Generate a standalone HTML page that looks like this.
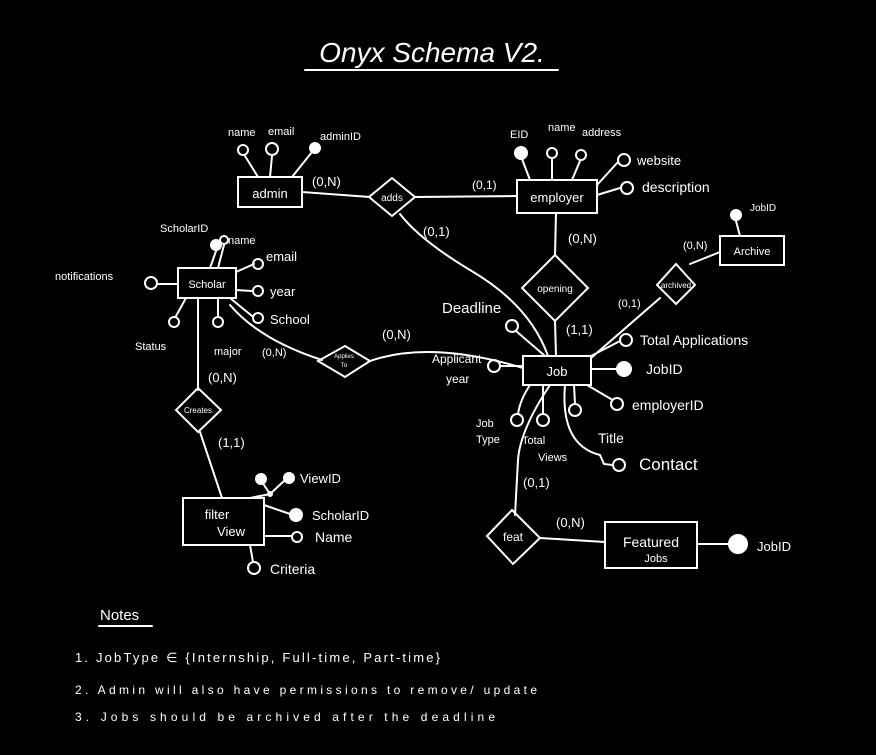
<!DOCTYPE html>
<html><head><meta charset="utf-8"><style>
html,body{margin:0;padding:0;background:#000;width:876px;height:755px;overflow:hidden}
svg{display:block}
text{fill:#fff;font-family:"Liberation Sans",sans-serif}
</style></head><body>
<svg width="876" height="755" viewBox="0 0 876 755" stroke="#fff" stroke-width="2" fill="none" stroke-linecap="round">
<text x="432" y="62" font-size="28" text-anchor="middle" stroke="none" font-style="italic">Onyx Schema V2.</text>
<line x1="305" y1="70" x2="558" y2="70"/>

<rect x="238" y="177" width="64" height="30"/>
<text x="270" y="198" font-size="13" stroke="none" text-anchor="middle">admin</text>
<line x1="258" y1="177" x2="245" y2="156"/><circle cx="243" cy="150" r="5"/>
<line x1="270" y1="177" x2="272" y2="156"/><circle cx="272" cy="149" r="6"/>
<line x1="292" y1="177" x2="312" y2="152"/><circle cx="315" cy="148" r="5" fill="#fff"/>
<text x="228" y="136" font-size="11" stroke="none">name</text>
<text x="268" y="135" font-size="11" stroke="none">email</text>
<text x="320" y="140" font-size="11" stroke="none">adminID</text>
<text x="312" y="186" font-size="13" stroke="none">(0,N)</text>
<line x1="302" y1="192" x2="370" y2="197"/>
<polygon points="392,178 415,197 392,216 369,197"/>
<text x="392" y="201" font-size="10" stroke="none" text-anchor="middle">adds</text>
<line x1="415" y1="197" x2="517" y2="196"/>
<text x="472" y="189" font-size="12" stroke="none">(0,1)</text>
<path d="M400,214 Q420,240 470,270 Q530,305 548,356"/>
<text x="423" y="236" font-size="13" stroke="none">(0,1)</text>

<rect x="517" y="180" width="80" height="33"/>
<text x="557" y="202" font-size="13" stroke="none" text-anchor="middle">employer</text>
<line x1="530" y1="180" x2="522" y2="159"/><circle cx="521" cy="153" r="6" fill="#fff"/>
<line x1="552" y1="180" x2="552" y2="159"/><circle cx="552" cy="153" r="5"/>
<line x1="572" y1="180" x2="580" y2="161"/><circle cx="581" cy="155" r="5"/>
<line x1="597" y1="185" x2="618" y2="162"/><circle cx="624" cy="160" r="6"/>
<line x1="597" y1="195" x2="620" y2="188"/><circle cx="627" cy="188" r="6"/>
<text x="510" y="138" font-size="11" stroke="none">EID</text>
<text x="548" y="131" font-size="11" stroke="none">name</text>
<text x="582" y="136" font-size="11" stroke="none">address</text>
<text x="637" y="165" font-size="13" stroke="none">website</text>
<text x="642" y="192" font-size="14" stroke="none">description</text>
<text x="568" y="243" font-size="13" stroke="none">(0,N)</text>
<line x1="556" y1="213" x2="555" y2="255"/>
<polygon points="555,255 588,288 555,321 522,288"/>
<text x="555" y="292" font-size="10" stroke="none" text-anchor="middle">opening</text>
<line x1="555" y1="321" x2="556" y2="356"/>
<text x="566" y="334" font-size="13" stroke="none">(1,1)</text>

<rect x="720" y="236" width="64" height="29"/>
<text x="752" y="255" font-size="11" stroke="none" text-anchor="middle">Archive</text>
<line x1="740" y1="236" x2="736" y2="221"/><circle cx="736" cy="215" r="5" fill="#fff"/>
<text x="750" y="211" font-size="10" stroke="none">JobID</text>
<line x1="720" y1="252" x2="690" y2="264"/>
<text x="683" y="249" font-size="11" stroke="none">(0,N)</text>
<polygon points="676,264 695,285 676,304 657,285"/>
<text x="676" y="288" font-size="8" stroke="none" text-anchor="middle">archived</text>
<line x1="660" y1="298" x2="591" y2="358"/>
<text x="618" y="307" font-size="11" stroke="none">(0,1)</text>

<rect x="523" y="356" width="68" height="29"/>
<text x="557" y="376" font-size="13" stroke="none" text-anchor="middle">Job</text>
<line x1="545" y1="356" x2="516" y2="331"/><circle cx="512" cy="326" r="6"/>
<text x="442" y="313" font-size="15" stroke="none">Deadline</text>
<line x1="523" y1="366" x2="500" y2="366"/><circle cx="494" cy="366" r="6"/>
<text x="432" y="363" font-size="12" stroke="none">Applicant</text>
<text x="446" y="383" font-size="12" stroke="none">year</text>
<path d="M530,385 Q520,400 518,414"/><circle cx="517" cy="420" r="6"/>
<text x="476" y="427" font-size="11" stroke="none">Job</text>
<text x="476" y="443" font-size="11" stroke="none">Type</text>
<line x1="543" y1="385" x2="543" y2="414"/><circle cx="543" cy="420" r="6"/>
<text x="522" y="444" font-size="11" stroke="none">Total</text>
<text x="538" y="461" font-size="11" stroke="none">Views</text>
<line x1="574" y1="385" x2="575" y2="404"/><circle cx="575" cy="410" r="6"/>
<text x="598" y="443" font-size="14" stroke="none">Title</text>
<path d="M565,385 Q560,445 600,455 L604,464 L612,465"/><circle cx="619" cy="465" r="6"/>
<text x="639" y="470" font-size="17" stroke="none">Contact</text>
<line x1="587" y1="385" x2="611" y2="399"/><circle cx="617" cy="404" r="6"/>
<text x="632" y="410" font-size="14" stroke="none">employerID</text>
<line x1="591" y1="369" x2="617" y2="369"/><circle cx="624" cy="369" r="7" fill="#fff"/>
<text x="646" y="374" font-size="14" stroke="none">JobID</text>
<line x1="591" y1="356" x2="620" y2="341"/><circle cx="626" cy="340" r="6"/>
<text x="640" y="345" font-size="14" stroke="none">Total Applications</text>
<path d="M550,385 Q520,430 518,460 L515,515"/>
<text x="523" y="487" font-size="13" stroke="none">(0,1)</text>
<polygon points="512,510 540,538 513,564 487,536"/>
<text x="513" y="541" font-size="12" stroke="none" text-anchor="middle">feat</text>
<line x1="540" y1="538" x2="605" y2="542"/>
<text x="556" y="527" font-size="13" stroke="none">(0,N)</text>
<rect x="605" y="522" width="92" height="46"/>
<text x="651" y="547" font-size="14" stroke="none" text-anchor="middle">Featured</text>
<text x="656" y="562" font-size="11" stroke="none" text-anchor="middle">Jobs</text>
<line x1="697" y1="544" x2="729" y2="544"/><circle cx="738" cy="544" r="9" fill="#fff"/>
<text x="757" y="551" font-size="13" stroke="none">JobID</text>

<rect x="178" y="268" width="58" height="30"/>
<text x="207" y="288" font-size="11" stroke="none" text-anchor="middle">Scholar</text>
<line x1="210" y1="268" x2="216" y2="251"/><circle cx="216" cy="245" r="5" fill="#fff"/>
<text x="160" y="232" font-size="11" stroke="none">ScholarID</text>
<line x1="218" y1="268" x2="224" y2="245"/><circle cx="224" cy="240" r="4"/>
<text x="228" y="244" font-size="11" stroke="none">name</text>
<line x1="236" y1="272" x2="254" y2="264"/><circle cx="258" cy="264" r="5"/>
<text x="266" y="261" font-size="13" stroke="none">email</text>
<line x1="236" y1="290" x2="252" y2="291"/><circle cx="258" cy="291" r="5"/>
<text x="270" y="296" font-size="13" stroke="none">year</text>
<line x1="230" y1="298" x2="252" y2="316"/><circle cx="258" cy="318" r="5"/>
<text x="270" y="324" font-size="13" stroke="none">School</text>
<line x1="178" y1="284" x2="157" y2="284"/><circle cx="151" cy="283" r="6"/>
<text x="55" y="280" font-size="11" stroke="none">notifications</text>
<line x1="186" y1="298" x2="176" y2="316"/><circle cx="174" cy="322" r="5"/>
<text x="135" y="350" font-size="11" stroke="none">Status</text>
<line x1="218" y1="298" x2="218" y2="316"/><circle cx="218" cy="322" r="5"/>
<text x="214" y="355" font-size="11" stroke="none">major</text>
<path d="M230,305 Q260,340 322,360"/>
<text x="262" y="356" font-size="11" stroke="none">(0,N)</text>
<polygon points="345,346 370,361 345,377 318,361"/>
<text x="344" y="358" font-size="6" stroke="none" text-anchor="middle">Applies</text>
<text x="344" y="367" font-size="6" stroke="none" text-anchor="middle">To</text>
<path d="M370,361 Q430,340 523,368"/>
<text x="382" y="339" font-size="13" stroke="none">(0,N)</text>
<line x1="198" y1="298" x2="198" y2="390"/>
<text x="208" y="382" font-size="13" stroke="none">(0,N)</text>
<polygon points="198,388 221,410 198,432 176,410"/>
<text x="198" y="413" font-size="8" stroke="none" text-anchor="middle">Creates</text>
<line x1="200" y1="432" x2="222" y2="498"/>
<text x="218" y="447" font-size="13" stroke="none">(1,1)</text>

<rect x="183" y="498" width="81" height="47"/>
<text x="217" y="519" font-size="13" stroke="none" text-anchor="middle">filter</text>
<text x="231" y="536" font-size="13" stroke="none" text-anchor="middle">View</text>
<line x1="250" y1="498" x2="270" y2="494"/><circle cx="270" cy="494" r="2" fill="#fff"/>
<line x1="270" y1="494" x2="262" y2="482"/><circle cx="261" cy="479" r="5" fill="#fff"/>
<line x1="270" y1="494" x2="284" y2="481"/><circle cx="289" cy="478" r="5" fill="#fff"/>
<text x="300" y="483" font-size="13" stroke="none">ViewID</text>
<line x1="264" y1="505" x2="290" y2="514"/><circle cx="296" cy="515" r="6" fill="#fff"/>
<text x="312" y="520" font-size="13" stroke="none">ScholarID</text>
<line x1="264" y1="536" x2="291" y2="536"/><circle cx="297" cy="537" r="5"/>
<text x="315" y="542" font-size="14" stroke="none">Name</text>
<line x1="250" y1="545" x2="253" y2="562"/><circle cx="254" cy="568" r="6"/>
<text x="270" y="574" font-size="14" stroke="none">Criteria</text>

<text x="100" y="620" font-size="15" stroke="none">Notes</text>
<line x1="99" y1="626" x2="152" y2="626"/>
<text x="75" y="662" font-size="13" stroke="none" textLength="365" lengthAdjust="spacing">1.  JobType  ∈  {Internship, Full-time, Part-time}</text>
<text x="75" y="694" font-size="12" stroke="none" textLength="462" lengthAdjust="spacing">2.  Admin will also have permissions to remove/ update</text>
<text x="75" y="721" font-size="12" stroke="none" textLength="420" lengthAdjust="spacing">3.  Jobs should be archived after the deadline</text>
</svg>
</body></html>
